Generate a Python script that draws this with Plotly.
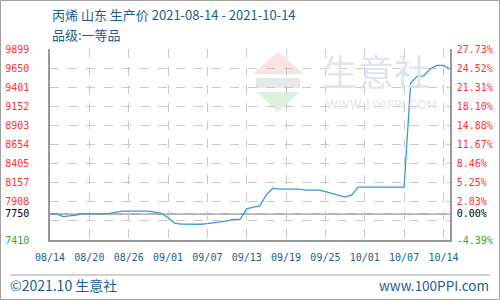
import plotly.graph_objects as go
import pandas as pd

# ---------------- data ----------------
START_DATE = "2021-08-14"
prices = [
    7750, 7750, 7714, 7723, 7733, 7754, 7750, 7750, 7750, 7758,
    7772, 7785, 7785, 7785, 7785, 7785, 7772, 7758, 7700, 7630,
    7617, 7615, 7615, 7615, 7623, 7630, 7645, 7658, 7680, 7680,
    7815, 7837, 7854, 8000, 8085, 8072, 8072, 8072, 8072, 8059,
    8059, 8059, 8041, 8015, 7985, 7968, 7995, 8098, 8098, 8098,
    8098, 8098, 8098, 8098, 8098, 9455, 9545, 9550, 9640, 9685,
    9685, 9640,
]
dates = pd.date_range(START_DATE, periods=len(prices), freq="D")

BASE = 7750
Y_MIN, Y_MAX = 7410, 9899
left_labels = ["7410", "", "7908", "8157", "8405", "8654", "8903", "9152", "9401", "9650", "9899"]
right_labels = ["-4.39%", "", "2.03%", "5.25%", "8.46%", "11.67%", "14.88%", "18.10%", "21.31%", "24.52%", "27.73%"]
x_tick_dates = ["2021-08-14", "2021-08-20", "2021-08-26", "2021-09-01", "2021-09-07",
                "2021-09-13", "2021-09-19", "2021-09-25", "2021-10-01", "2021-10-07", "2021-10-13"]
x_tick_labels = ["08/14", "08/20", "08/26", "09/01", "09/07", "09/13", "09/19",
                 "09/25", "10/01", "10/07", "10/14"]
title_line1 = "丙烯 山东 生产价 2021-08-14 - 2021-10-14"
title_line2 = "品级:一等品"
footer_left = "©2021.10 生意社"
footer_right = "www.100PPI.com"

# ---------------- styling ----------------
RED = "#ff3333"
GREEN = "#33a833"
BLACK = "#000000"
BLUE_TXT = "#1b5d8c"
LINE = "#3a98d6"
GRID = "#c8c8c8"
AXIS = "#999999"

W, H = 500, 300
L, R, T, B = 50, 50, 49, 60
PW, PH = W - L - R, H - T - B


def px(x):
    return (x - L) / PW


def py(y):
    return (H - B - y) / PH


step = (Y_MAX - Y_MIN) / 10
yt = [Y_MIN + i * step for i in range(11)]
ytick_left = list(yt) + [BASE]
ytext_left = [f'<span style="color:{GREEN if i == 0 else RED}">{t}</span>' for i, t in enumerate(left_labels)]
ytext_left.append(f'<span style="color:{BLACK}">{BASE}</span>')
ytext_right = [f'<span style="color:{GREEN if i == 0 else RED}">{t}</span>' for i, t in enumerate(right_labels)]
ytext_right.append(f'<span style="color:{BLACK}">0.00%</span>')

fig = go.Figure()
fig.add_trace(go.Scatter(x=dates, y=prices, mode="lines",
                         line=dict(color=LINE, width=1.3), hoverinfo="x+y",
                         showlegend=False))
fig.add_trace(go.Scatter(x=dates, y=prices, mode="lines", yaxis="y2",
                         line=dict(color="rgba(0,0,0,0)", width=0), hoverinfo="skip",
                         showlegend=False))

mono = "DejaVu Sans Mono"
cjk = "Noto Sans CJK SC"

fig.update_layout(
    width=W, height=H,
    margin=dict(l=L, r=R, t=T, b=B, autoexpand=False),
    paper_bgcolor="white", plot_bgcolor="white",
    xaxis=dict(
        type="date", range=[dates[0], dates[-1]], domain=[0, 1],
        tickvals=x_tick_dates, ticktext=x_tick_labels, tickangle=0,
        showgrid=True, gridcolor=GRID, griddash="dash", gridwidth=1,
        showline=True, linecolor=AXIS, linewidth=1.5,
        ticks="", ticklabelstandoff=7, automargin=False,
        tickfont=dict(family=mono, size=10, color=BLUE_TXT),
        zeroline=False, fixedrange=True,
    ),
    yaxis=dict(
        range=[Y_MIN, Y_MAX],
        tickvals=ytick_left, ticktext=ytext_left,
        showgrid=True, gridcolor=GRID, griddash="dash", gridwidth=1,
        showline=True, linecolor=AXIS, linewidth=1.5,
        ticks="", ticklabelstandoff=17, automargin=False,
        tickfont=dict(family=mono, size=10, color=RED),
        zeroline=False, fixedrange=True,
    ),
    yaxis2=dict(
        range=[Y_MIN, Y_MAX], overlaying="y", side="right",
        tickvals=ytick_left, ticktext=ytext_right,
        showgrid=False, showline=True, linecolor=AXIS, linewidth=1.5,
        ticks="", ticklabelstandoff=3, automargin=False,
        tickfont=dict(family=mono, size=10, color=RED),
        zeroline=False, fixedrange=True,
    ),
)

shapes = []
# base line
shapes.append(dict(type="line", xref="paper", yref="y", x0=0, x1=1, y0=BASE, y1=BASE,
                   line=dict(color=AXIS, width=1.5), layer="below"))
# outer border
shapes.append(dict(type="rect", xref="paper", yref="paper",
                   x0=px(0.5), x1=px(W - 0.5), y0=py(H - 0.5), y1=py(0.5),
                   line=dict(color="#a0a0a0", width=1)))
# footer separator
shapes.append(dict(type="line", xref="paper", yref="paper",
                   x0=px(10), x1=px(490), y0=py(275), y1=py(275),
                   line=dict(color="#a0a0a0", width=1)))
# watermark logo (decorative)
shapes.append(dict(type="path", xref="paper", yref="paper", layer="below",
                   path=f"M {px(252)},{py(74)} L {px(278)},{py(52)} L {px(304)},{py(74)} Z",
                   fillcolor="#fbe3e3", line=dict(width=0)))
shapes.append(dict(type="rect", xref="paper", yref="paper", layer="below",
                   x0=px(256), x1=px(300), y0=py(88), y1=py(78),
                   fillcolor="#e8e8e8", line=dict(width=0)))
shapes.append(dict(type="path", xref="paper", yref="paper", layer="below",
                   path=f"M {px(256)},{py(92)} L {px(300)},{py(92)} L {px(278)},{py(112)} Z",
                   fillcolor="#e0f0e0", line=dict(width=0)))
fig.update_layout(shapes=shapes)

ann = [
    dict(text=title_line1, x=px(50), y=py(15), font=dict(family=cjk, size=13, color=BLUE_TXT)),
    dict(text=title_line2, x=px(50), y=py(34), font=dict(family=cjk, size=13, color=BLUE_TXT)),
    dict(text=footer_left, x=px(8), y=py(285), font=dict(family=cjk, size=14, color=BLUE_TXT)),
    dict(text=footer_right, x=px(491), y=py(285), xanchor="right",
         font=dict(family=cjk, size=13.5, color=BLUE_TXT)),
    dict(text="生意社", x=px(320), y=py(70), font=dict(family=cjk, size=36, color="#dfe4ee")),
    dict(text="WWW.100PPI.COM", x=px(324), y=py(105), font=dict(family="DejaVu Sans", size=12, color="#e6e6e6")),
]
for a in ann:
    a.setdefault("xanchor", "left")
    a.update(xref="paper", yref="paper", yanchor="middle", showarrow=False)
fig.update_layout(annotations=ann)

fig.write_html("out.html")
